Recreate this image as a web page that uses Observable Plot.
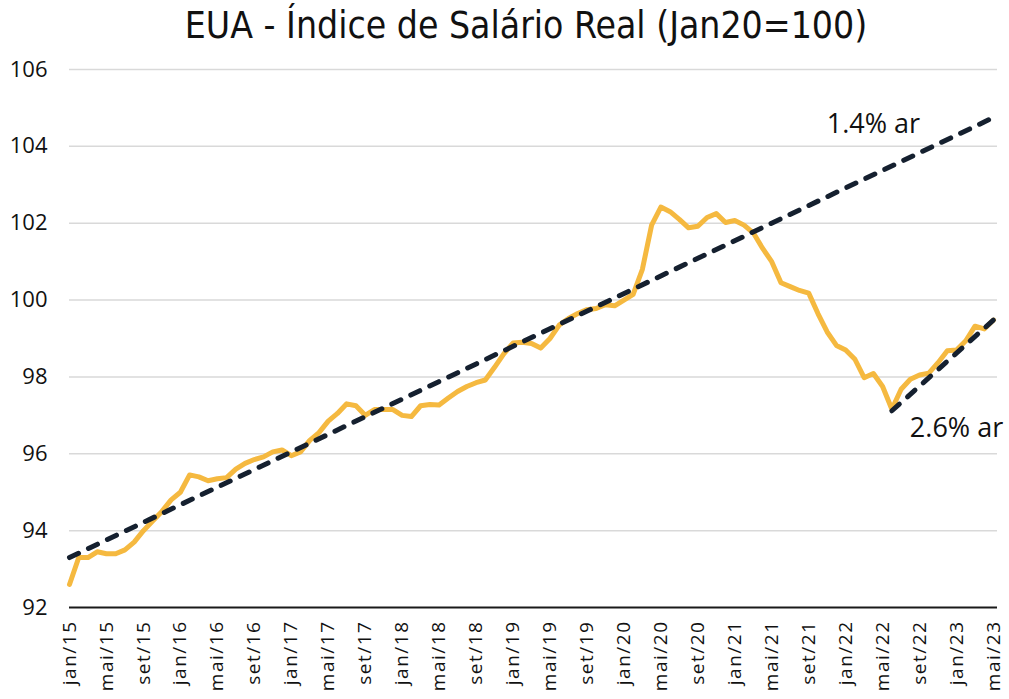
<!DOCTYPE html>
<html>
<head>
<meta charset="utf-8">
<script src="https://cdn.jsdelivr.net/npm/d3@7"></script>
<script src="https://cdn.jsdelivr.net/npm/@observablehq/plot@0.6"></script>
<style>
  html, body { margin: 0; padding: 0; background: #fff; }
  #wrap { position: relative; width: 1009px; height: 699px; overflow: hidden; }
  #title { position: absolute; left: 0; top: 4px; width: 1052px; text-align: center;
           font-family: "DejaVu Sans Condensed", "Open Sans", sans-serif; font-size: 37px; color: #111; }
  #chart { position: absolute; left: 0; top: 0; }
</style>
</head>
<body>
<div id="wrap">
  <div id="chart"></div>
  <div id="title">EUA - Índice de Salário Real (Jan20=100)</div>
</div>
<script>
// Categories
const monthNames = ["jan","fev","mar","abr","mai","jun","jul","ago","set","out","nov","dez"];
const years = ["15","16","17","18","19","20","21","22","23"];
// Real wage index (jan/15 .. mai/23)
const wage = [
  92.6, 93.3, 93.3, 93.45, 93.4, 93.4, 93.5, 93.7, 94.0, 94.25, 94.5, 94.8,   // 2015
  95.0, 95.45, 95.4, 95.3, 95.35, 95.38, 95.6, 95.75, 95.85, 95.92, 96.05, 96.1, // 2016
  95.95, 96.05, 96.35, 96.55, 96.85, 97.05, 97.3, 97.25, 97.0, 97.15, 97.15, 97.15, // 2017
  97.0, 96.97, 97.25, 97.28, 97.27, 97.45, 97.62, 97.75, 97.85, 97.92, 98.25, 98.6, // 2018
  98.88, 98.9, 98.87, 98.75, 99.0, 99.35, 99.52, 99.65, 99.75, 99.78, 99.88, 99.85, // 2019
  100.0, 100.15, 100.8, 101.95, 102.42, 102.3, 102.1, 101.88, 101.92, 102.15, 102.25, 102.02, // 2020
  102.07, 101.95, 101.75, 101.35, 101.0, 100.45, 100.35, 100.25, 100.18, 99.65, 99.17, 98.82, // 2021
  98.7, 98.46, 97.98, 98.09, 97.75, 97.16, 97.68, 97.94, 98.05, 98.1, 98.37, 98.68, // 2022
  98.7, 98.94, 99.32, 99.25, 99.48 // 2023
];
// Trend lines (endpoints)
const trend14X = ["jan/15", "mai/23"];
const trend14Y = [93.3, 104.75];
const trend26X = ["jun/22", "mai/23"];
const trend26Y = [97.12, 99.48];
// Annotations
const noteText = ["1.4% ar", "2.6% ar"];
const noteX = ["abr/22", "jan/23"];
const noteY = [104.57, 96.65];
// Axis ticks
const yTicks = [92, 94, 96, 98, 100, 102, 104, 106];
const gridValues = [94, 96, 98, 100, 102, 104, 106];

const labels = [];
for (const y of years) for (const m of monthNames) labels.push(m + "/" + y);
labels.length = wage.length;
const idx = (lab) => labels.indexOf(lab);
const data = wage.map((v, i) => ({i, v}));
const xTicks = labels.map((d, i) => i).filter(i => i % 4 === 0);
const t14 = trend14X.map((x, k) => ({i: idx(x), y: trend14Y[k]}));
const t26 = trend26X.map((x, k) => ({i: idx(x), y: trend26Y[k]}));
const notes = noteText.map((t, k) => ({t, i: idx(noteX[k]), y: noteY[k]}));

const chart = Plot.plot({
  width: 1009,
  height: 699,
  marginTop: 69,
  marginBottom: 92,
  marginLeft: 69,
  marginRight: 16,
  style: {fontFamily: "'Open Sans', sans-serif", color: "#111", background: "#fff"},
  x: {type: "linear", domain: [0, labels.length - 1]},
  y: {domain: [92, 106]},
  marks: [
    Plot.ruleY(gridValues, {stroke: "#d9d9d9", strokeWidth: 1.5, insetRight: -4}),
    Plot.ruleY([92], {stroke: "#1a1a1a", strokeWidth: 2, insetRight: -4}),
    Plot.axisY({ticks: yTicks, tickSize: 0, tickPadding: 22, fontSize: 22, label: null}),
    Plot.axisX({ticks: xTicks, tickFormat: i => labels[i], tickRotate: -90, tickSize: 0, tickPadding: 13, fontSize: 19, label: null}),
    Plot.line(data, {x: "i", y: "v", stroke: "#F5B940", strokeWidth: 5, strokeLinejoin: "round"}),
    Plot.line(t14, {x: "i", y: "y", stroke: "#15202F", strokeWidth: 5, strokeDasharray: "10,11", strokeLinecap: "round"}),
    Plot.line(t26, {x: "i", y: "y", stroke: "#15202F", strokeWidth: 5, strokeDasharray: "10,11", strokeLinecap: "round"}),
    Plot.text(notes, {x: "i", y: "y", text: "t", fontSize: 27, fill: "#111"})
  ]
});
document.getElementById("chart").appendChild(chart);
d3.select(chart).selectAll('[aria-label="x-axis tick label"] text').style("letter-spacing", "1.5px");
</script>
</body>
</html>
